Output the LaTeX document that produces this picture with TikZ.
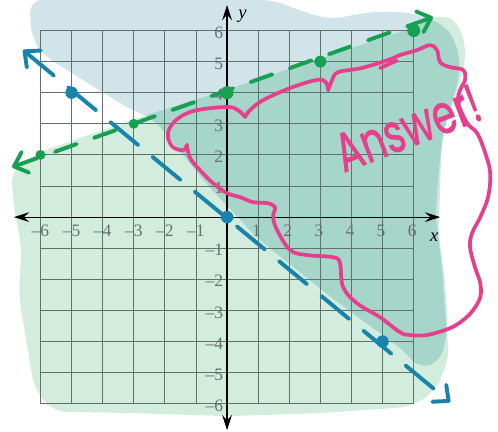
\documentclass[tikz,border=0pt]{standalone}
\usepackage{fontspec}
\usetikzlibrary{arrows.meta}
\newfontfamily\tickfont{Liberation Serif}
\newfontfamily\handfont[FakeBold=1.2]{Poppins}
\definecolor{washblue}{RGB}{208,228,234}
\definecolor{washgreen}{RGB}{210,236,222}
\definecolor{washteal}{RGB}{166,213,202}
\definecolor{gridcol}{RGB}{95,115,108}
\definecolor{tickcol}{RGB}{105,110,110}
\definecolor{lineblue}{RGB}{24,132,172}
\definecolor{linegreen}{RGB}{24,160,82}
\definecolor{answerpink}{RGB}{230,64,140}
% wash outlines
\newcommand\bluewash{(-6.35,6.98) -- (1.5,6.98) -- (2.3,6.65) -- (3.3,6.35) -- (4.6,6.6) -- (5.8,6.6) -- (6.9,6.25) -- (7.4,5.6) -- (7.5,4.6) -- (7.2,3.6) -- (6.9,2.5) -- (6.85,1.0) -- (6.8,-0.5) -- (7.0,-2.0) -- (7.1,-3.5) -- (6.9,-4.6) -- (6.2,-4.9) -- (5.7,-4.3) -- (3.5,-2.7) -- (1.0,-0.7) -- (-0.6,1.0) -- (-2.4,3.2) -- (-3.1,3.45) -- (-5.9,5.2) -- (-6.3,5.8) -- cycle}
\newcommand\greenwash{(-6.95,1.5) -- (-6.0,2.1) -- (-3.0,3.15) -- (0,4.1) -- (3,5.1) -- (6,6.1) -- (6.9,6.55) -- (7.5,6.2) -- (7.7,5.2) -- (7.4,4.0) -- (7.0,3.0) -- (6.8,1.5) -- (6.7,0) -- (6.9,-1.5) -- (7.0,-3.0) -- (7.15,-4.5) -- (6.7,-5.6) -- (5.9,-6.1) -- (3,-6.3) -- (0,-6.4) -- (-3,-6.3) -- (-5.6,-6.25) -- (-6.2,-5.5) -- (-6.45,-4.0) -- (-6.7,-2.5) -- (-6.6,-1.0) -- (-6.85,0.3) -- cycle}
\begin{document}
\begin{tikzpicture}[
    gridline/.style={draw=gridcol, line width=0.8pt},
    axis/.style={line width=1.1pt, {Stealth[length=14pt,width=9pt,inset=5pt]}-{Stealth[length=14pt,width=9pt,inset=5pt]}},
    ticklabel/.style={text=tickcol, font=\tickfont\fontsize{16}{16}\selectfont, inner sep=0pt},
    axislabel/.style={inner sep=0pt, font=\tickfont\itshape\fontsize{17}{17}\selectfont},
    barbs/.style={{Straight Barb[round,length=11pt,width=20pt]}-{Straight Barb[round,length=11pt,width=20pt]}},
    blueline/.style={lineblue, line width=3.6pt, line cap=round, dash pattern=on 33pt off 17pt, barbs},
    greenline/.style={linegreen, line width=3.6pt, line cap=round, dash pattern=on 21pt off 17pt, barbs},
    answer/.style={answerpink, line width=3.4pt, line cap=round, line join=round},
  ]
    \useasboundingbox (-7.3,-6.88) rectangle (8.71,6.98);

    % Washes (teal where both overlap)
    \fill[washblue, rounded corners=12pt] \bluewash;
    \fill[washgreen, rounded corners=12pt] \greenwash;
    \begin{scope}
        \clip[rounded corners=12pt] \bluewash;
        \fill[washteal, rounded corners=12pt] \greenwash;
    \end{scope}

    % Grid and axes
    \draw[gridline] (-6,-6) grid (6,6);
    \draw[axis] (-6.85,0) -- (6.85,0);
    \draw[axis] (0,-6.85) -- (0,6.82);
    \node[axislabel] (xlabel) at (6.66,-0.64) {x};
    \node[axislabel] (ylabel) at (0.5,6.46) {y};
    \foreach \x in {1,...,6} {
        \node[ticklabel] (xp\x) at (\x-0.05,-0.45) {\x};
        \node[ticklabel] (xn\x) at (-\x,-0.45) {–\x};
        \node[ticklabel, anchor=east] (yp\x) at (-0.12,\x-0.06) {\x};
        \node[ticklabel, anchor=east] (yn\x) at (-0.12,-\x-0.06) {–\x};
    }

    % Boundary lines
    \coordinate (blueA) at (-6.56,5.37);
    \coordinate (blueB) at (7.17,-5.95);
    \coordinate (greenA) at (-6.91,1.61);
    \coordinate (greenB) at (6.62,6.43);
    \draw[blueline] (blueA) -- (blueB);
    \draw[greenline] (greenA) -- (greenB);

    % Points
    \foreach \p in {(-5,4),(0,0),(5,-4)}
        \fill[lineblue] \p circle (0.2);
    \fill[linegreen] (-6,2) circle (0.16);
    \fill[linegreen] (-3,3) circle (0.16);
    \fill[linegreen] (0,4) circle (0.21);
    \fill[linegreen] (3,5) circle (0.19);
    \fill[linegreen] (6,6) circle (0.21);

    % Answer cloud
    \draw[answer] plot[smooth, tension=0.6] coordinates {(-1.29,2.32) (-1.41,2.15) (-1.74,2.25) (-1.90,2.57) (-1.83,2.89) (-1.51,3.22) (-0.96,3.44) (0,3.54) (0.35,3.44) (0.58,3.22)};
    \draw[answer] plot[smooth, tension=0.6] coordinates {(0.58,3.22) (0.74,3.44) (1.16,3.76) (2.03,4.15) (2.89,4.41) (3.18,4.33) (3.25,4.08)};
    \draw[answer] plot[smooth, tension=0.6] coordinates {(3.25,4.08) (3.38,4.41) (3.57,4.66) (4.31,4.79) (5.18,5.05) (5.56,5.21) (6.11,5.37) (6.53,5.53) (6.75,5.37) (6.85,4.98) (7.17,4.82) (7.59,4.73) (7.65,4.41) (7.49,4.08) (7.43,3.67) (7.72,3.02) (8.04,2.70) (8.30,2.06) (8.46,1.41) (8.39,0.64) (8.14,0) (7.88,-0.51) (7.81,-0.96) (7.97,-1.61) (8.14,-2.12) (8.14,-2.57) (7.91,-2.99) (7.59,-3.31) (7.17,-3.57) (6.43,-3.79) (5.88,-3.79) (5.56,-3.70) (4.92,-3.22) (4.18,-2.77) (3.73,-2.25) (3.63,-1.48) (3.41,-1.29) (2.57,-1.22) (2.03,-1.06) (1.61,-0.42) (1.48,0) (1.54,0.32) (1.29,0.45) (0.84,0.48) (0.42,0.64) (0,0.77) (-0.45,1.09) (-0.87,1.51) (-1.19,1.90) (-1.29,2.32)};
    \draw[answer] (4.92,4.79) -- (5.45,5.03);
    \node[answerpink, font=\handfont\fontsize{50}{50}\selectfont, inner sep=0pt, anchor=base west, rotate=21, xscale=0.7] (answertext) at (3.75,1.42) {Answer!};
\end{tikzpicture}
\end{document}
